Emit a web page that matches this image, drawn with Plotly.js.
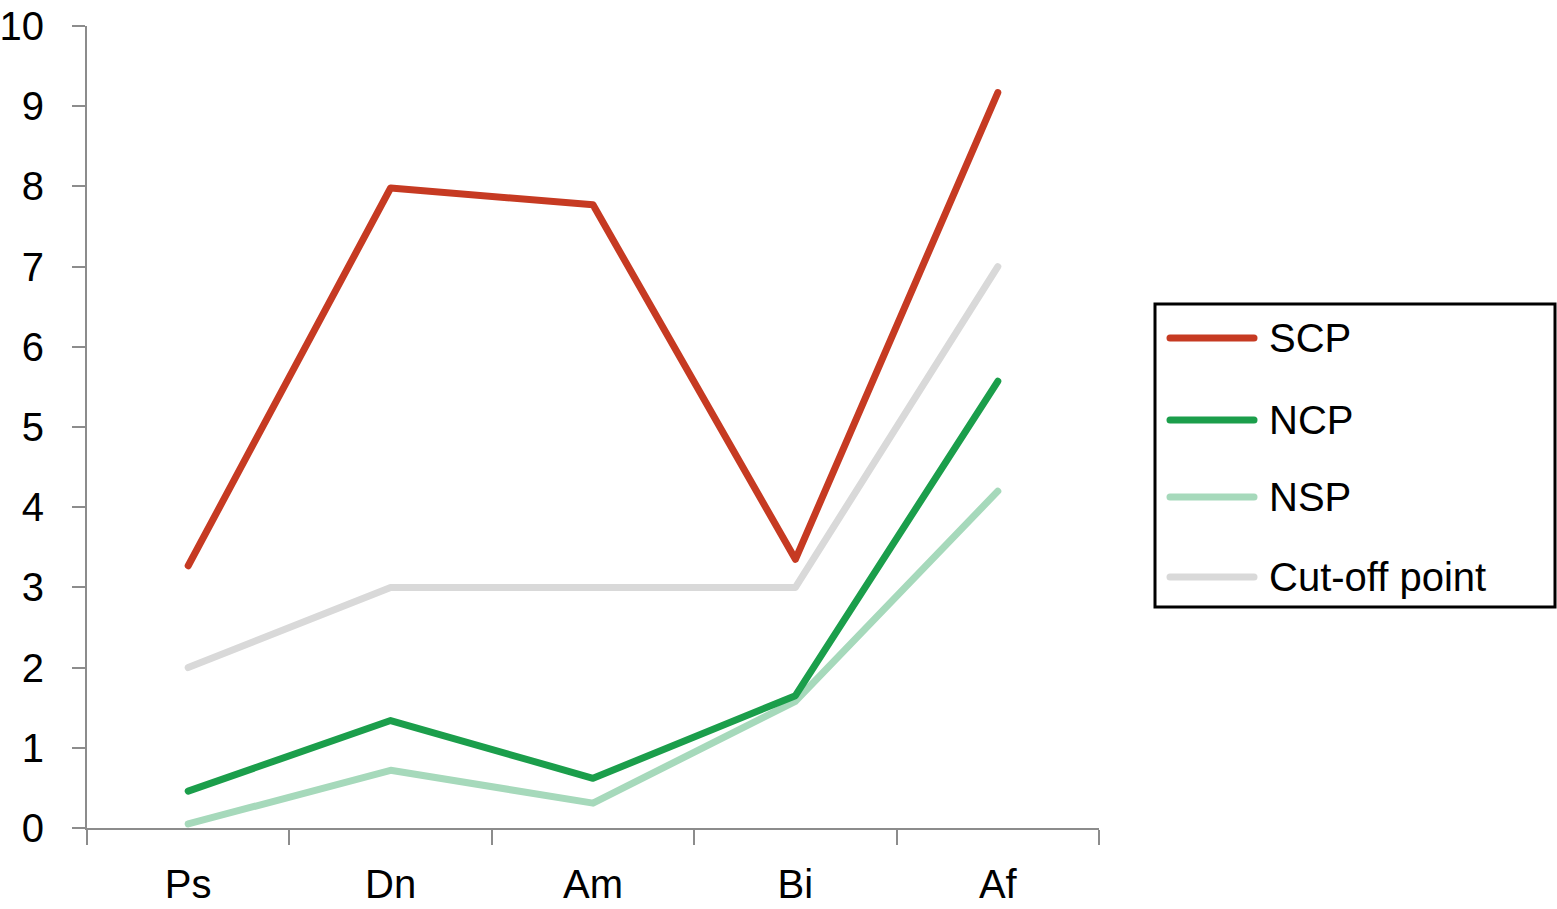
<!DOCTYPE html>
<html>
<head>
<meta charset="utf-8">
<script src="https://cdn.plot.ly/plotly-3.0.1.min.js"></script>
<style>
  html, body { margin: 0; padding: 0; background: #fff; }
  #chart { width: 1557px; height: 909px; }
  /* the original has rounded line ends */
  #chart .scatterlayer path.js-line { stroke-linecap: round; stroke-linejoin: round; }
  #chart .layer-above path { stroke-linecap: round; }
</style>
</head>
<body>
<div id="chart"></div>
<script>
const categories = ['Ps', 'Dn', 'Am', 'Bi', 'Af'];
const seriesNames = ['SCP', 'NCP', 'NSP', 'Cut-off point'];
const scpValues = [3.27, 7.98, 7.77, 3.35, 9.17];
const ncpValues = [0.46, 1.34, 0.62, 1.65, 5.57];
const nspValues = [0.05, 0.72, 0.31, 1.58, 4.2];
const cutoffValues = [2, 3, 3, 3, 7];
const yTicks = [0, 1, 2, 3, 4, 5, 6, 7, 8, 9, 10];

const colors = {
    'SCP': '#c63a22',
    'NCP': '#1b9e4b',
    'NSP': '#a6d9bb',
    'Cut-off point': '#d9d9d9'
};
const font = 'Liberation Sans, Arial, Helvetica, sans-serif';
const fontSize = 40;

const W = 1557, H = 909;
const margin = { l: 87, r: 458, t: 26, b: 81 };
const plotW = W - margin.l - margin.r;
const plotH = H - margin.t - margin.b;
const px = x => (x - margin.l) / plotW;
const py = y => (H - margin.b - y) / plotH;

function line(name, values) {
    return {
        x: categories,
        y: values,
        name: name,
        type: 'scatter',
        mode: 'lines',
        line: { color: colors[name], width: 7 },
        showlegend: false,
        hoverinfo: 'x+y+name'
    };
}

// drawing order: grey cut-off at the back, red on top
const data = [
    line('Cut-off point', cutoffValues),
    line('NSP', nspValues),
    line('NCP', ncpValues),
    line('SCP', scpValues)
];

// hand-made legend box so the line samples can be as long as in the original
const shapes = [{
    type: 'rect', xref: 'paper', yref: 'paper',
    x0: px(1155), x1: px(1555), y0: py(607), y1: py(304),
    line: { color: '#000', width: 3 }, fillcolor: 'rgba(0,0,0,0)'
}];
const annotations = [];
const rowY = [338, 420, 497, 577];
seriesNames.forEach((name, i) => {
    shapes.push({
        type: 'line', xref: 'paper', yref: 'paper',
        x0: px(1170), x1: px(1254), y0: py(rowY[i]), y1: py(rowY[i]),
        line: { color: colors[name], width: 7 }
    });
    annotations.push({
        xref: 'paper', yref: 'paper',
        x: px(1267), y: py(rowY[i]),
        xanchor: 'left', yanchor: 'middle',
        text: name, showarrow: false,
        font: { family: font, size: fontSize, color: '#000' }
    });
});

const axisStyle = {
    ticks: 'outside',
    tickwidth: 2,
    tickcolor: '#8c8c8c',
    showline: true,
    linecolor: '#8c8c8c',
    linewidth: 2,
    showgrid: false,
    zeroline: false,
    tickfont: { family: font, size: fontSize, color: '#000' }
};

const layout = {
    width: W,
    height: H,
    margin: margin,
    paper_bgcolor: '#fff',
    plot_bgcolor: '#fff',
    font: { family: font, size: fontSize, color: '#000' },
    showlegend: false,
    xaxis: Object.assign({}, axisStyle, {
        type: 'category',
        range: [-0.5, 4.5],
        tickson: 'boundaries',
        ticklen: 15,
        ticklabelstandoff: 20
    }),
    yaxis: Object.assign({}, axisStyle, {
        range: [0, 10],
        tickvals: yTicks,
        ticklen: 13,
        ticklabelstandoff: 20
    }),
    shapes: shapes,
    annotations: annotations
};

Plotly.newPlot('chart', data, layout, { displayModeBar: false, staticPlot: true });
</script>
</body>
</html>
